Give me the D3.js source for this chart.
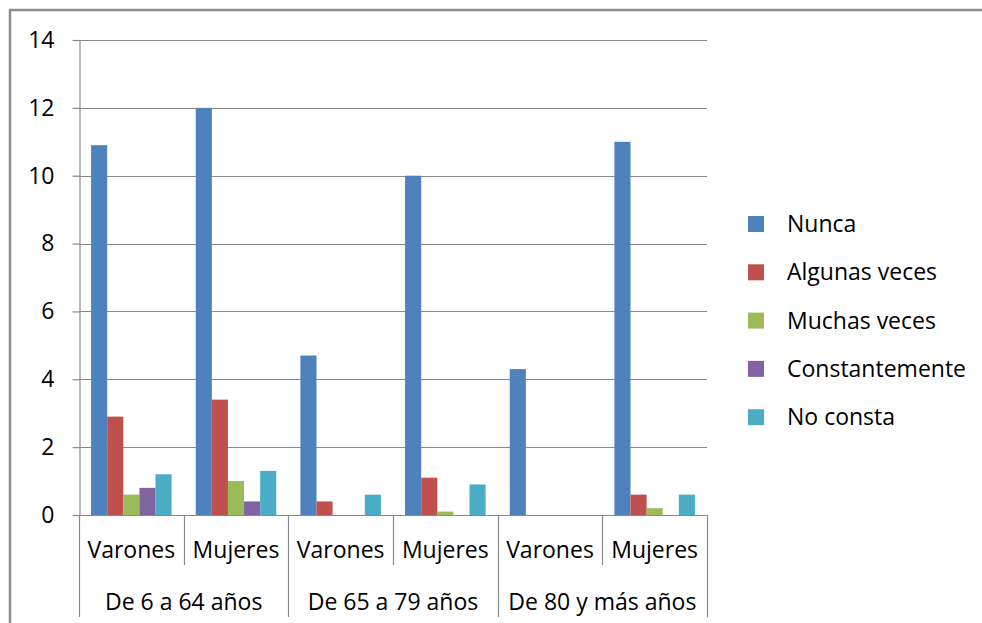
<!DOCTYPE html>
<html>
<head>
<meta charset="utf-8">
<script src="https://cdn.jsdelivr.net/npm/d3@7"></script>
<style>
  html, body { margin: 0; padding: 0; background: #fff; }
  svg { display: block; }
  text { font-family: "Open Sans", sans-serif; fill: #000; }
</style>
</head>
<body>
<svg id="chart" width="982" height="623"></svg>
<script>
// Age groups, each split by sex
const groups = ["De 6 a 64 años", "De 65 a 79 años", "De 80 y más años"];
const sexes = ["Varones", "Mujeres"];

// Series (one value per group/sex pair, in order)
const seriesNames = ["Nunca", "Algunas veces", "Muchas veces", "Constantemente", "No consta"];
const nunca          = [10.9, 12.0, 4.7, 10.0, 4.3, 11.0];
const algunasVeces   = [2.9, 3.4, 0.4, 1.1, 0, 0.6];
const muchasVeces    = [0.6, 1.0, 0, 0.1, 0, 0.2];
const constantemente = [0.8, 0.4, 0, 0, 0, 0];
const noConsta       = [1.2, 1.3, 0.6, 0.9, 0, 0.6];
const seriesColors = ["#4F81BD", "#C0504D", "#9BBB59", "#8064A2", "#4BACC6"];

const yTicks = [0, 2, 4, 6, 8, 10, 12, 14];

const seriesValues = [nunca, algunasVeces, muchasVeces, constantemente, noConsta];
const categories = [];
groups.forEach(g => sexes.forEach(s => categories.push(g + "|" + s)));

const svg = d3.select("#chart");
const gridColor = "#8a8a8a";
const fontSize = 23;

// Outer frame
svg.append("rect")
  .attr("x", 10).attr("y", 10)
  .attr("width", 1000).attr("height", 700)
  .attr("fill", "none")
  .attr("stroke", "#8c8c8c")
  .attr("stroke-width", 2.5);

const plot = { left: 79, right: 707, top: 40, bottom: 515 };

const y = d3.scaleLinear().domain([0, 14]).range([plot.bottom, plot.top]);
const x = d3.scaleBand().domain(categories).range([plot.left, plot.right])
  .paddingInner(0).paddingOuter(0);
const xs = d3.scaleBand().domain(seriesNames).range([0, x.bandwidth()])
  .paddingInner(0).paddingOuter(0.75);

// Horizontal gridlines
svg.append("g").selectAll("line").data(yTicks.filter(t => t > 0)).join("line")
  .attr("x1", plot.left).attr("x2", plot.right)
  .attr("y1", d => Math.round(y(d)) + 0.5).attr("y2", d => Math.round(y(d)) + 0.5)
  .attr("stroke", gridColor).attr("stroke-width", 1.2);

// Bars
const barLayer = svg.append("g");
seriesNames.forEach((name, si) => {
  barLayer.append("g").attr("fill", seriesColors[si])
    .selectAll("rect").data(seriesValues[si].map((v, i) => ({ v, c: categories[i] })))
    .join("rect")
    .attr("x", d => x(d.c) + xs(name))
    .attr("width", xs.bandwidth())
    .attr("y", d => y(d.v))
    .attr("height", d => y(0) - y(d.v));
});

// Y axis
const yAxis = svg.append("g")
  .attr("transform", `translate(${plot.left + 0.5},0)`)
  .call(d3.axisLeft(y).tickValues(yTicks).tickFormat(d3.format("d"))
    .tickSize(7).tickPadding(18).tickSizeOuter(0));
yAxis.select(".domain").attr("stroke", gridColor).attr("stroke-width", 1.2);
yAxis.selectAll(".tick line").attr("stroke", gridColor).attr("stroke-width", 1.2);
yAxis.selectAll(".tick text").attr("font-size", fontSize)
  .attr("font-family", "Open Sans, sans-serif").attr("fill", "#000");

// X axis baseline
svg.append("line")
  .attr("x1", plot.left).attr("x2", plot.right)
  .attr("y1", Math.round(y(0)) + 0.5).attr("y2", Math.round(y(0)) + 0.5)
  .attr("stroke", gridColor).attr("stroke-width", 1.2);

// Category dividers: short between sexes, long between age groups
const boundaries = d3.range(categories.length + 1).map(i => plot.left + i * x.step());
svg.append("g").selectAll("line").data(boundaries).join("line")
  .attr("x1", d => Math.round(d) + 0.5).attr("x2", d => Math.round(d) + 0.5)
  .attr("y1", y(0))
  .attr("y2", (d, i) => i % sexes.length === 0 ? 617 : 565)
  .attr("stroke", gridColor).attr("stroke-width", 1.2);

// Sex labels
svg.append("g").selectAll("text").data(categories).join("text")
  .attr("x", d => x(d) + x.bandwidth() / 2)
  .attr("y", 558)
  .attr("text-anchor", "middle")
  .attr("font-size", fontSize)
  .text(d => d.split("|")[1]);

// Age-group labels
svg.append("g").selectAll("text").data(groups).join("text")
  .attr("x", (g, i) => plot.left + (i * sexes.length + sexes.length / 2) * x.step())
  .attr("y", 610)
  .attr("text-anchor", "middle")
  .attr("font-size", fontSize)
  .text(d => d);

// Legend
const legend = svg.append("g").attr("transform", "translate(748,224)");
const item = legend.selectAll("g").data(seriesNames).join("g")
  .attr("transform", (d, i) => `translate(0,${i * 48.3})`);
item.append("rect")
  .attr("x", 0).attr("y", -8).attr("width", 16).attr("height", 16)
  .attr("fill", (d, i) => seriesColors[i]);
item.append("text")
  .attr("x", 39).attr("y", 8)
  .attr("font-size", fontSize)
  .text(d => d);
</script>
</body>
</html>
